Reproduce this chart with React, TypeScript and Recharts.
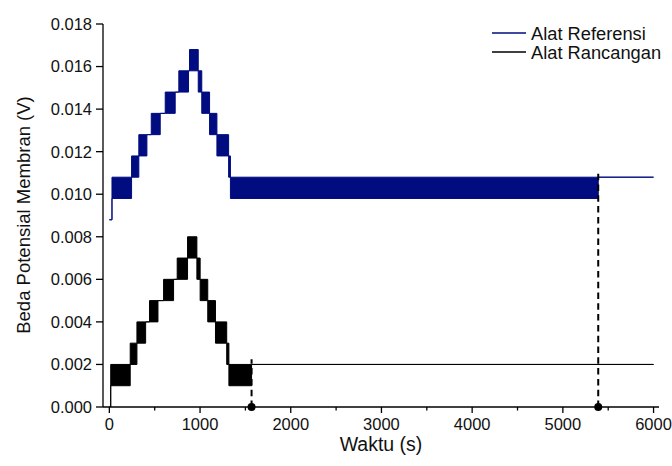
import {
  Area,
  ComposedChart,
  Label,
  Legend,
  ReferenceDot,
  ReferenceLine,
  XAxis,
  YAxis,
} from "recharts";

// Alat Referensi: each step is a band (fast oscillation) between low and high
const refTime = [0, 29, 245, 325, 414, 462, 561, 616, 726, 766, 873, 884, 980, 1019, 1105, 1186, 1315, 1335, 5390, 6000];
const refLow = [0.0088, 0.0098, 0.0108, 0.0118, 0.0128, 0.0128, 0.0138, 0.0138, 0.0148, 0.0148, 0.0158, 0.0158, 0.0148, 0.0138, 0.0128, 0.0118, 0.0108, 0.0098, 0.0108, 0.0108];
const refHigh = [0.0088, 0.0108, 0.0118, 0.0128, 0.0128, 0.0138, 0.0138, 0.0148, 0.0148, 0.0158, 0.0158, 0.0168, 0.0158, 0.0148, 0.0138, 0.0128, 0.0118, 0.0108, 0.0108, 0.0108];

// Alat Rancangan
const ranTime = [0, 15, 230, 304, 400, 443, 536, 598, 708, 748, 862, 965, 1001, 1085, 1170, 1294, 1318, 1568, 6000];
const ranLow = [0, 0.001, 0.002, 0.003, 0.004, 0.004, 0.005, 0.005, 0.006, 0.006, 0.007, 0.006, 0.005, 0.004, 0.003, 0.002, 0.001, 0.002, 0.002];
const ranHigh = [0, 0.002, 0.003, 0.004, 0.004, 0.005, 0.005, 0.006, 0.006, 0.007, 0.008, 0.007, 0.006, 0.005, 0.004, 0.003, 0.002, 0.002, 0.002];

// settling-time markers
const markerTime = [1568, 5390];
const markerTop = [0.00225, 0.0111];

const xTicks = [0, 500, 1000, 1500, 2000, 2500, 3000, 3500, 4000, 4500, 5000, 5500, 6000];
const yTicks = [0, 0.001, 0.002, 0.003, 0.004, 0.005, 0.006, 0.007, 0.008, 0.009, 0.01, 0.011, 0.012, 0.013, 0.014, 0.015, 0.016, 0.017, 0.018];

const BLUE = "#000C80";
const FONT = "'Liberation Sans', Arial, sans-serif";

const refData = refTime.map((t, i) => ({ t, range: [refLow[i], refHigh[i]] }));
const ranData = ranTime.map((t, i) => ({ t, range: [ranLow[i], ranHigh[i]] }));

function XTick({ x, y, payload }: any) {
  const major = payload.value % 1000 === 0;
  return (
    <g>
      <line x1={x} x2={x} y1={y} y2={y + (major ? 6 : 3.5)} stroke="#000" strokeWidth={1.3} />
      {major && (
        <text x={x} y={y + 23} textAnchor="middle" fontSize={16.5} fontFamily={FONT} fill="#111">
          {payload.value}
        </text>
      )}
    </g>
  );
}

function YTick({ x, y, payload }: any) {
  const major = Math.round(payload.value * 1000) % 2 === 0;
  return (
    <g>
      <line x1={x - (major ? 7 : 3.5)} x2={x} y1={y} y2={y} stroke="#000" strokeWidth={1.3} />
      {major && (
        <text x={x - 11} y={y} dy="0.36em" textAnchor="end" fontSize={16.5} fontFamily={FONT} fill="#111">
          {payload.value.toFixed(3)}
        </text>
      )}
    </g>
  );
}

function LegendBox() {
  return (
    <svg width={172} height={46} style={{ overflow: "visible" }}>
      <line x1={-8} x2={26} y1={13} y2={13} stroke={BLUE} strokeWidth={1.5} />
      <text x={31} y={13} dy="0.36em" fontSize={18.3} fontFamily={FONT} fill="#111">
        Alat Referensi
      </text>
      <line x1={-8} x2={26} y1={32} y2={32} stroke="#000" strokeWidth={1.5} />
      <text x={31} y={32} dy="0.36em" fontSize={18.3} fontFamily={FONT} fill="#111">
        Alat Rancangan
      </text>
    </svg>
  );
}

export default function App() {
  return (
    <div style={{ position: "absolute", left: 0, top: 0, background: "#fff" }}>
      <ComposedChart width={672} height={466} margin={{ top: 24, right: 13, bottom: 0, left: 0 }}>
        <XAxis
          type="number"
          dataKey="t"
          domain={[-70, 6060]}
          ticks={xTicks}
          tick={<XTick />}
          tickSize={0}
          tickMargin={0}
          height={59}
          axisLine={{ stroke: "#000", strokeWidth: 1.3 }}
          tickLine={false}
          allowDataOverflow
        >
          <Label
            content={() => (
              <text x={381} y={451} textAnchor="middle" fontSize={19.5} fontFamily={FONT} fill="#111">
                Waktu (s)
              </text>
            )}
          />
        </XAxis>
        <YAxis
          type="number"
          domain={[0, 0.018]}
          ticks={yTicks}
          tick={<YTick />}
          tickSize={0}
          tickMargin={0}
          width={103}
          axisLine={{ stroke: "#000", strokeWidth: 1.3 }}
          tickLine={false}
          allowDataOverflow
        >
          <Label
            content={() => (
              <text
                x={23}
                y={215}
                transform="rotate(-90, 23, 215)"
                textAnchor="middle"
                dy="0.36em"
                fontSize={18.5}
                fontFamily={FONT}
                fill="#111"
              >
                Beda Potensial Membran (V)
              </text>
            )}
          />
        </YAxis>
        <Legend
          layout="vertical"
          align="center"
          verticalAlign="middle"
          wrapperStyle={{ left: 500, top: 20, width: 172, height: 46 }}
          content={() => <LegendBox />}
        />
        <Area
          data={refData}
          dataKey="range"
          name="Alat Referensi"
          type="stepAfter"
          fill={BLUE}
          fillOpacity={1}
          stroke={BLUE}
          strokeWidth={1}
          dot={false}
          activeDot={false}
          isAnimationActive={false}
        />
        <Area
          data={ranData}
          dataKey="range"
          name="Alat Rancangan"
          type="stepAfter"
          fill="#000"
          fillOpacity={1}
          stroke="#000"
          strokeWidth={1}
          dot={false}
          activeDot={false}
          isAnimationActive={false}
        />
        {markerTime.map((t, i) => (
          <ReferenceLine
            key={"l" + i}
            segment={[
              { x: t, y: 0 },
              { x: t, y: markerTop[i] },
            ]}
            stroke="#000"
            strokeWidth={2}
            strokeDasharray="6.5 4.3"
          />
        ))}
        {markerTime.map((t, i) => (
          <ReferenceDot key={"d" + i} x={t} y={0} r={4} fill="#000" stroke="none" />
        ))}
      </ComposedChart>
    </div>
  );
}
